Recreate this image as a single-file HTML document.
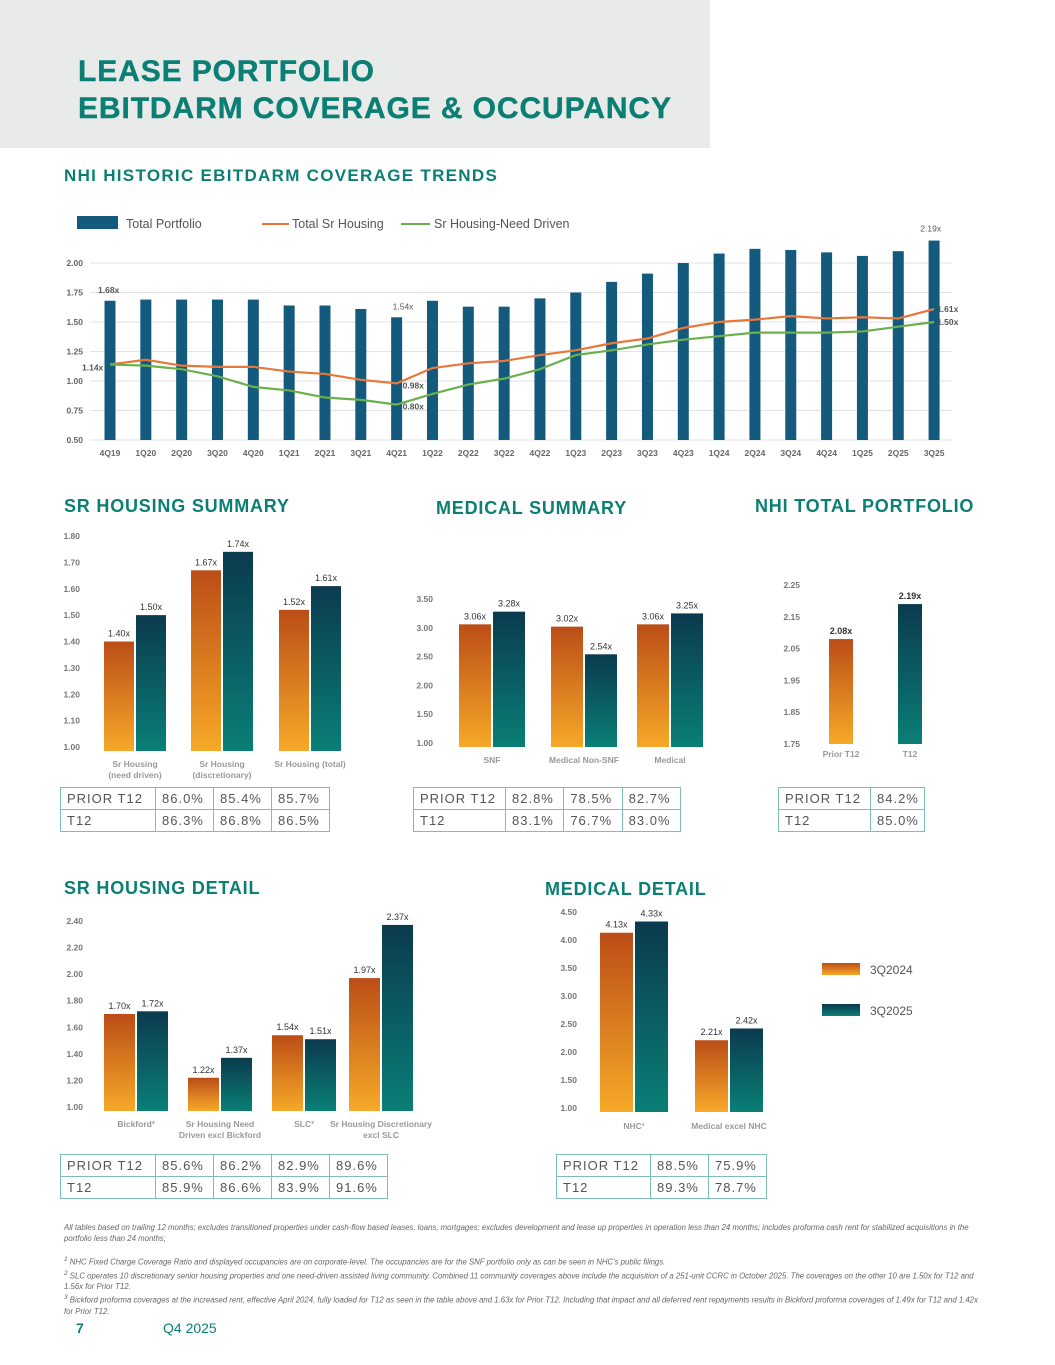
<!DOCTYPE html>
<html><head><meta charset="utf-8">
<style>
body{margin:0;width:1055px;height:1365px;position:relative;background:#fff;font-family:"Liberation Sans",sans-serif;overflow:hidden}
.hdr{position:absolute;left:0;top:0;width:710px;height:148px;background:#e9ebea}
.t1{position:absolute;left:78px;font-weight:bold;color:#0b7f73;font-size:30px;letter-spacing:0.9px;-webkit-text-stroke:0.4px #0b7f73}
.sec{position:absolute;font-weight:bold;color:#0b7f73;font-size:18px;letter-spacing:0.8px}
table{position:absolute;border-collapse:collapse;font-size:13px;color:#555;letter-spacing:1px}
td{border:1.5px solid #7fbdbb;height:21px;padding:0 0 0 6px}
.foot{position:absolute;left:64px;font-size:7.8px;font-style:italic;color:#666;width:925px;line-height:11px}
svg{position:absolute;left:0;top:0}
</style></head><body>
<div class="hdr"></div>
<div class="t1" style="top:55px">LEASE PORTFOLIO</div>
<div class="t1" style="top:92px">EBITDARM COVERAGE &amp; OCCUPANCY</div>
<div class="sec" style="left:64px;top:166px;font-size:17px;letter-spacing:1.3px">NHI HISTORIC EBITDARM COVERAGE TRENDS</div>
<div class="sec" style="left:64px;top:496px">SR HOUSING SUMMARY</div>
<div class="sec" style="left:436px;top:498px">MEDICAL SUMMARY</div>
<div class="sec" style="left:755px;top:496px">NHI TOTAL PORTFOLIO</div>
<div class="sec" style="left:64px;top:878px">SR HOUSING DETAIL</div>
<div class="sec" style="left:545px;top:879px">MEDICAL DETAIL</div>

<table style="left:60px;top:787px;width:270px">
<tr><td style="width:88px">PRIOR T12</td><td>86.0%</td><td>85.4%</td><td>85.7%</td></tr>
<tr><td>T12</td><td>86.3%</td><td>86.8%</td><td>86.5%</td></tr></table>
<table style="left:413px;top:787px;width:268px">
<tr><td style="width:85px">PRIOR T12</td><td>82.8%</td><td>78.5%</td><td>82.7%</td></tr>
<tr><td>T12</td><td>83.1%</td><td>76.7%</td><td>83.0%</td></tr></table>
<table style="left:778px;top:787px;width:147px">
<tr><td style="width:85px">PRIOR T12</td><td>84.2%</td></tr>
<tr><td>T12</td><td>85.0%</td></tr></table>
<table style="left:60px;top:1154px;width:328px">
<tr><td style="width:88px">PRIOR T12</td><td>85.6%</td><td>86.2%</td><td>82.9%</td><td>89.6%</td></tr>
<tr><td>T12</td><td>85.9%</td><td>86.6%</td><td>83.9%</td><td>91.6%</td></tr></table>
<table style="left:556px;top:1154px;width:211px">
<tr><td style="width:87px">PRIOR T12</td><td>88.5%</td><td>75.9%</td></tr>
<tr><td>T12</td><td>89.3%</td><td>78.7%</td></tr></table>

<div class="foot" style="top:1222px">All tables based on trailing 12 months; excludes transitioned properties under cash-flow based leases, loans, mortgages; excludes development and lease up properties in operation less than 24 months; includes proforma cash rent for stabilized acquisitions in the portfolio less than 24 months;</div>
<div class="foot" style="top:1254px"><sup>1</sup> NHC Fixed Charge Coverage Ratio and displayed occupancies are on corporate-level. The occupancies are for the SNF portfolio only as can be seen in NHC's public filings.<br><sup>2</sup> SLC operates 10 discretionary senior housing properties and one need-driven assisted living community. Combined 11 community coverages above include the acquisition of a 251-unit CCRC in October 2025. The coverages on the other 10 are 1.50x for T12 and 1.56x for Prior T12.<br><sup>3</sup> Bickford proforma coverages at the increased rent, effective April 2024, fully loaded for T12 as seen in the table above and 1.63x for Prior T12. Including that impact and all deferred rent repayments results in Bickford proforma coverages of 1.49x for T12 and 1.42x for Prior T12.</div>
<div style="position:absolute;left:76px;top:1320px;font-size:14px;font-weight:bold;color:#0b7f73">7</div>
<div style="position:absolute;left:163px;top:1320px;font-size:14px;color:#0b7f73">Q4 2025</div>

<svg id="svg" width="1055" height="1365">
<defs>
<linearGradient id="go" x1="0" y1="0" x2="0" y2="1"><stop offset="0" stop-color="#bb4d17"/><stop offset="1" stop-color="#f6a928"/></linearGradient>
<linearGradient id="gt" x1="0" y1="0" x2="0" y2="1"><stop offset="0" stop-color="#0b3a4e"/><stop offset="1" stop-color="#0a7f76"/></linearGradient>
</defs>
</svg>
<script>
// Trend chart data
const quarters=["4Q19","1Q20","2Q20","3Q20","4Q20","1Q21","2Q21","3Q21","4Q21","1Q22","2Q22","3Q22","4Q22","1Q23","2Q23","3Q23","4Q23","1Q24","2Q24","3Q24","4Q24","1Q25","2Q25","3Q25"];
const totalPortfolio=[1.68,1.69,1.69,1.69,1.69,1.64,1.64,1.61,1.54,1.68,1.63,1.63,1.70,1.75,1.84,1.91,2.00,2.08,2.12,2.11,2.09,2.06,2.10,2.19];
const totalSrHousing=[1.14,1.18,1.13,1.12,1.12,1.08,1.06,1.01,0.98,1.11,1.15,1.17,1.22,1.26,1.32,1.36,1.45,1.50,1.52,1.55,1.53,1.54,1.53,1.61];
const srNeedDriven=[1.14,1.13,1.10,1.04,0.95,0.92,0.86,0.84,0.80,0.89,0.97,1.02,1.10,1.22,1.26,1.31,1.35,1.38,1.41,1.41,1.41,1.42,1.46,1.50];
const trendTicks=[0.50,0.75,1.00,1.25,1.50,1.75,2.00];
// Small charts data
const srSumCats=["Sr Housing|(need driven)","Sr Housing|(discretionary)","Sr Housing (total)"];
const srSumPrior=[1.40,1.67,1.52];
const srSumCur=[1.50,1.74,1.61];
const srSumTicks=[1.00,1.10,1.20,1.30,1.40,1.50,1.60,1.70,1.80];
const medSumCats=["SNF","Medical Non-SNF","Medical"];
const medSumPrior=[3.06,3.02,3.06];
const medSumCur=[3.28,2.54,3.25];
const medSumTicks=[1.00,1.50,2.00,2.50,3.00,3.50];
const totCats=["Prior T12","T12"];
const totVals=[2.08,2.19];
const totTicks=[1.75,1.85,1.95,2.05,2.15,2.25];
const srDetCats=["Bickford³","Sr Housing Need|Driven excl Bickford","SLC²","Sr Housing Discretionary|excl SLC"];
const srDetPrior=[1.70,1.22,1.54,1.97];
const srDetCur=[1.72,1.37,1.51,2.37];
const srDetTicks=[1.00,1.20,1.40,1.60,1.80,2.00,2.20,2.40];
const medDetCats=["NHC¹","Medical excel NHC"];
const medDetPrior=[4.13,2.21];
const medDetCur=[4.33,2.42];
const medDetTicks=[1.00,1.50,2.00,2.50,3.00,3.50,4.00,4.50];

const svg=document.getElementById('svg');
const NS='http://www.w3.org/2000/svg';
function mk(tag,at,txt){const e=document.createElementNS(NS,tag);for(const k in at)e.setAttribute(k,at[k]);if(txt!==undefined)e.textContent=txt;svg.appendChild(e);return e;}

// ---- trend chart
const ty=v=>440-(v-0.5)*118;
const tx=i=>110+i*35.83;
trendTicks.forEach(t=>{
  const g=mk('line',{x1:90,x2:952,y1:ty(t),y2:ty(t),stroke:'#e3e3e3','stroke-width':1});
  
  
  const l=mk('text',{x:83,y:ty(t)+3,'text-anchor':'end','font-size':8.5,'font-weight':'bold',fill:'#666'},t.toFixed(2));
  
  
});
quarters.forEach((q,i)=>{
  const b=mk('rect',{x:tx(i)-5.5,y:ty(totalPortfolio[i]),width:11,height:ty(0.5)-ty(totalPortfolio[i]),fill:'#135a7c'});
  
  
  const l=mk('text',{x:tx(i),y:456,'text-anchor':'middle','font-size':8.5,'font-weight':'bold',fill:'#666'},q);
  
  
});
function line(vals,col,name){
  const p=mk('polyline',{points:vals.map((v,i)=>tx(i)+','+ty(v)).join(' '),fill:'none',stroke:col,'stroke-width':2.2});
  
  
}
line(totalSrHousing,'#e8773a','total-sr-housing-line');
line(srNeedDriven,'#6ab04c','sr-housing-need-driven-line');
const N=quarters.length-1;
[[tx(0)-12,ty(totalPortfolio[0])-8,'1.68x','start'],[tx(8)-4,ty(totalPortfolio[8])-8,'1.54x','start'],[tx(N)+7,ty(totalPortfolio[N])-9,'2.19x','end'],
 [tx(0)-28,ty(totalSrHousing[0])+6,'1.14x','start'],[tx(8)+6,ty(totalSrHousing[8])+5,'0.98x','start'],[tx(8)+6,ty(srNeedDriven[8])+5,'0.80x','start'],
 [tx(N)+3,ty(totalSrHousing[N])+3,'1.61x','start'],[tx(N)+3,ty(srNeedDriven[N])+3,'1.50x','start']].forEach(a=>{
  const l=mk('text',{x:a[0],y:a[1],'font-size':8.5,fill:'#555','text-anchor':a[3],'font-weight':a[2]=='2.19x'||a[2]=='1.54x'?'normal':'bold'},a[2]);
  
  
});
// legend
const lg1=mk('rect',{x:77,y:216,width:41,height:13,fill:'#135a7c'});


mk('text',{x:126,y:228,'font-size':12.5,fill:'#555'},'Total Portfolio');
const lg2=mk('line',{x1:262,x2:289,y1:224,y2:224,stroke:'#e8773a','stroke-width':2});


mk('text',{x:292,y:228,'font-size':12.5,fill:'#555'},'Total Sr Housing');
const lg3=mk('line',{x1:401,x2:430,y1:224,y2:224,stroke:'#6ab04c','stroke-width':2});


mk('text',{x:434,y:228,'font-size':12.5,fill:'#555'},'Sr Housing-Need Driven');

// ---- generic paired bar chart
function chart(o){
  const y=v=>o.y0-(v-o.v0)*o.s;
  o.ticks.forEach(t=>{
    const l=mk('text',{x:o.lx,y:y(t)+3,'text-anchor':'end','font-size':8.5,'font-weight':'bold',fill:'#777'},t.toFixed(2));
    
    
  });
  o.cats.forEach((c,i)=>{
    const sets=o.cur?[[o.prior[i],'url(#go)',0],[o.cur[i],'url(#gt)',o.w+2]]:[[o.prior[i],i==0?'url(#go)':'url(#gt)',0]];
    sets.forEach(s=>{
      const bx=o.x[i]+s[2];
      const r=mk('rect',{x:bx,y:y(s[0]),width:o.w,height:o.bot-y(s[0]),fill:s[1]});
      
      
      const t=mk('text',{x:bx+o.w/2,y:y(s[0])-5,'text-anchor':'middle','font-size':9,fill:'#333','font-weight':o.bold?'bold':'normal'},s[0].toFixed(2)+'x');
      
      
    });
    const cx=o.x[i]+(o.cur?o.w+1:o.w/2);
    c.split('|').forEach((ln,k)=>{
      const t=mk('text',{x:cx,y:o.ly+k*11,'text-anchor':'middle','font-size':8.5,'font-weight':'bold',fill:'#999'},ln);
      
      
    });
  });
}
chart({name:'sr-summary',cats:srSumCats,prior:srSumPrior,cur:srSumCur,ticks:srSumTicks,y0:747,v0:1,s:263.75,lx:80,x:[104,191,279],w:30,bot:751,ly:767});
chart({name:'med-summary',cats:medSumCats,prior:medSumPrior,cur:medSumCur,ticks:medSumTicks,y0:743,v0:1,s:57.6,lx:433,x:[459,551,637],w:32,bot:747,ly:763});
chart({name:'total-portfolio',cats:totCats,prior:totVals,ticks:totTicks,y0:744,v0:1.75,s:318,lx:800,x:[829,898],w:24,bot:744,ly:757,bold:true});
chart({name:'sr-detail',cats:srDetCats,prior:srDetPrior,cur:srDetCur,ticks:srDetTicks,y0:1107,v0:1,s:132.9,lx:83,x:[104,188,272,349],w:31,bot:1111,ly:1127});
chart({name:'med-detail',cats:medDetCats,prior:medDetPrior,cur:medDetCur,ticks:medDetTicks,y0:1108,v0:1,s:56,lx:577,x:[600,695],w:33,bot:1112,ly:1129});
// medical detail legend
[['url(#go)',965,'3Q2024'],['url(#gt)',1006,'3Q2025']].forEach(a=>{
  const r=mk('rect',{x:822,y:a[1]-2,width:38,height:12,fill:a[0]});
  
  
  mk('text',{x:870,y:a[1]+9,'font-size':12,fill:'#555'},a[2]);
});
</script>
</body></html>
